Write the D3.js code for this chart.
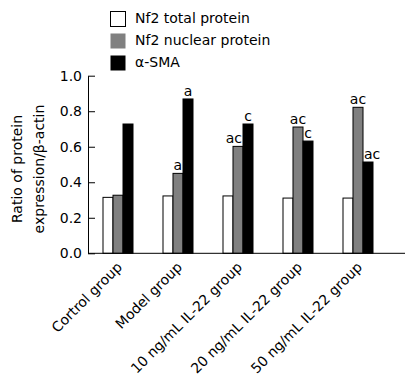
<!DOCTYPE html>
<html>
<head>
<meta charset="utf-8">
<script src="https://cdn.jsdelivr.net/npm/d3@7"></script>
<style>
  body { margin: 0; background: #fff; }
  text { font-family: "DejaVu Sans", sans-serif; font-size: 14px; fill: #000; }
</style>
</head>
<body>
<div id="chart"></div>
<script>
const WIDTH = 415;
const HEIGHT = 383;

const groups = ["Cortrol group", "Model group", "10 ng/mL IL-22 group", "20 ng/mL IL-22 group", "50 ng/mL IL-22 group"];
const seriesNames = ["Nf2 total protein", "Nf2 nuclear protein", "\u03b1-SMA"];
const totalProtein = [0.315, 0.323, 0.323, 0.311, 0.311];
const nuclearProtein = [0.327, 0.45, 0.602, 0.711, 0.822];
const sma = [0.728, 0.869, 0.728, 0.632, 0.514];
const totalMarks = ["", "", "", "", ""];
const nuclearMarks = ["", "a", "ac", "ac", "ac"];
const smaMarks = ["", "a", "c", "c", "ac"];
const yTicks = [0, 0.2, 0.4, 0.6, 0.8, 1.0];

const colors = ["#ffffff", "#808080", "#000000"];
const seriesValues = [totalProtein, nuclearProtein, sma];
const seriesMarks = [totalMarks, nuclearMarks, smaMarks];

const svg = d3.select("#chart")
    .append("svg")
        .attr("width", WIDTH)
        .attr("height", HEIGHT);

const x = d3.scaleBand()
    .domain(groups)
    .range([88, 388])
    .paddingInner(0.5)
    .paddingOuter(0.25);

const xSub = d3.scaleBand()
    .domain(seriesNames)
    .range([0, x.bandwidth()]);

const y = d3.scaleLinear()
    .domain([0, 1])
    .range([253.3, 75.7]);

const color = d3.scaleOrdinal()
    .domain(seriesNames)
    .range(colors);

// y axis, ticks point inward
svg.append("g")
    .attr("transform", "translate(88,0)")
    .call(d3.axisLeft(y).tickValues(yTicks).tickFormat(d3.format(".1f")).tickSizeInner(-7).tickSizeOuter(0).tickPadding(6))
    .call(g => g.selectAll("text").style("font-size", "14px").style("font-family", "DejaVu Sans"))
    .call(g => g.selectAll("line, path").attr("stroke", "#000"));

// bars
const rows = [];
groups.forEach((g, i) => {
    seriesNames.forEach((s, j) => {
        rows.push({ group: g, gi: i, si: j, series: s, value: seriesValues[j][i], mark: seriesMarks[j][i] });
    });
});

svg.selectAll("rect.bar")
    .data(rows)
    .enter()
    .append("rect")
        .attr("class", "bar")
        .attr("x", d => x(d.group) + xSub(d.series))
        .attr("y", d => y(d.value))
        .attr("width", xSub.bandwidth())
        .attr("height", d => y(0) - y(d.value))
        .attr("fill", d => color(d.series))
        .attr("stroke", "#000")
        .attr("stroke-width", 1);

// significance letters, nudged sideways so they don't run into a taller neighbour bar
svg.selectAll("text.mark")
    .data(rows.filter(d => d.mark))
    .enter()
    .append("text")
        .attr("class", "mark")
        .attr("y", d => y(d.value) - 3)
        .attr("text-anchor", "middle")
        .text(d => d.mark)
        .attr("x", function(d) {
            const left = x(d.group) + xSub(d.series);
            let cx = left + xSub.bandwidth() / 2;
            const hw = this.getComputedTextLength() / 2;
            const next = d.si < 2 ? seriesValues[d.si + 1][d.gi] : null;
            const prev = d.si > 0 ? seriesValues[d.si - 1][d.gi] : null;
            if (next !== null && next > d.value) cx = Math.min(cx, left + xSub.bandwidth() - 1 - hw);
            if (prev !== null && prev > d.value) cx = Math.max(cx, left + 1 + hw);
            return cx;
        });

// x axis line
svg.append("line")
    .attr("x1", 88).attr("x2", 405)
    .attr("y1", y(0)).attr("y2", y(0))
    .attr("stroke", "#000");

// x labels
svg.selectAll("text.xlab")
    .data(groups)
    .enter()
    .append("text")
        .attr("class", "xlab")
        .attr("text-anchor", "end")
        .attr("transform", d => `translate(${x(d) + x.bandwidth() / 2 + 5}, 268) rotate(-45)`)
        .text(d => d);

// y title
const yTitle = svg.append("text")
    .attr("text-anchor", "middle")
    .attr("transform", "translate(22, 169) rotate(-90)");
yTitle.append("tspan").attr("x", 0).attr("y", 0).text("Ratio of protein");
yTitle.append("tspan").attr("x", 0).attr("y", 21.5).text("expression/\u03b2-actin");

// legend
const legend = svg.append("g")
    .attr("transform", "translate(110, 11)");

const item = legend.selectAll("g")
    .data(seriesNames)
    .enter()
    .append("g")
        .attr("transform", (d, i) => `translate(0, ${i * 22})`);

item.append("rect")
    .attr("x", 0.5).attr("y", 0.5)
    .attr("width", 15).attr("height", 15)
    .attr("fill", d => color(d))
    .attr("stroke", d => d === seriesNames[0] ? "#000" : "none");

item.append("text")
    .attr("x", 25)
    .attr("y", 12)
    .text(d => d);
</script>
</body>
</html>
